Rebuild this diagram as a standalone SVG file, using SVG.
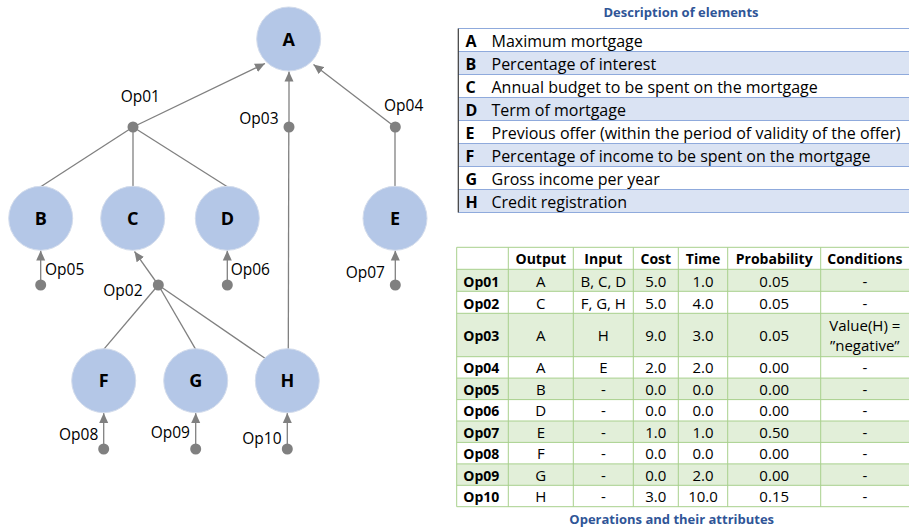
<svg xmlns="http://www.w3.org/2000/svg" width="909" height="532" viewBox="0 0 909 532">
<defs>
<marker id="arr" markerUnits="userSpaceOnUse" markerWidth="10" markerHeight="10" viewBox="0 0 10 10" refX="10" refY="5" orient="auto">
<path d="M0,0.5 L10,5 L0,9.5 Z" fill="#808080"/>
</marker>
<style>
.node circle{fill:#B4C7E7;stroke:#D3DCEC;stroke-width:1}
.node text{font-family:"Open Sans","Liberation Sans",sans-serif;font-weight:bold;font-size:18px;text-anchor:middle;fill:#000}
.dot{fill:#808080}
.ln{stroke:#808080;stroke-width:1.3;fill:none}
.ar{stroke:#808080;stroke-width:1.3;fill:none;marker-end:url(#arr)}
.lbl{font-family:"Open Sans","Liberation Sans",sans-serif;font-size:15.5px;fill:#000}
.ttl{font-family:"Open Sans","Liberation Sans",sans-serif;font-size:13px;font-weight:bold;fill:#2F5597;text-anchor:middle}
.dk{font-family:"Open Sans","Liberation Sans",sans-serif;font-size:16px;font-weight:bold;fill:#000}
.dt{font-family:"Open Sans","Liberation Sans",sans-serif;font-size:16px;fill:#000}
.th{font-family:"Open Sans","Liberation Sans",sans-serif;font-size:14px;font-weight:bold;fill:#000;text-anchor:middle}
.tn{font-family:"Open Sans","Liberation Sans",sans-serif;font-size:14px;font-weight:bold;fill:#000}
.tv{font-family:"Open Sans","Liberation Sans",sans-serif;font-size:15px;fill:#000;text-anchor:middle}
.bl{fill:#DAE3F3}
.gr{fill:#E2EFD9}
.bline{stroke:#8FAADC;stroke-width:1}
.gline{stroke:#A8D08D;stroke-width:1}
</style>
</defs>
<rect width="909" height="532" fill="#fff"/>

<g id="connectors">
<line class="ar" x1="133" y1="127" x2="265" y2="63.5"/>
<line class="ar" x1="289" y1="127" x2="289" y2="71.5"/>
<line class="ar" x1="395" y1="127" x2="313.5" y2="64.5"/>
<line class="ln" x1="133" y1="127" x2="40.7" y2="186.7"/>
<line class="ln" x1="133" y1="127" x2="133" y2="186.7"/>
<line class="ln" x1="133" y1="127" x2="227.3" y2="186.7"/>
<line class="ln" x1="395" y1="127" x2="395" y2="186.7"/>
<line class="ar" x1="40.7" y1="285" x2="40.7" y2="250.5"/>
<line class="ar" x1="227.3" y1="285" x2="227.3" y2="250.5"/>
<line class="ar" x1="395.3" y1="285" x2="395.3" y2="250.5"/>
<line class="ar" x1="158.3" y1="285" x2="134.5" y2="251.5"/>
<line class="ln" x1="158.3" y1="285" x2="103.7" y2="349.3"/>
<line class="ln" x1="158.3" y1="285" x2="195.7" y2="349.3"/>
<line class="ln" x1="158.3" y1="285" x2="265" y2="358.3"/>
<line class="ln" x1="288.3" y1="349.3" x2="288.8" y2="127"/>
<line class="ar" x1="103.7" y1="449" x2="103.7" y2="413"/>
<line class="ar" x1="195.7" y1="449" x2="195.7" y2="413"/>
<line class="ar" x1="287.3" y1="449" x2="287.3" y2="413"/>
</g>

<g id="op01"><circle class="dot" cx="133" cy="127" r="5.5"/><text class="lbl" x="120.7" y="102.3">Op01</text></g>
<g id="op02"><circle class="dot" cx="158.3" cy="285" r="5.5"/><text class="lbl" x="103.3" y="295.7">Op02</text></g>
<g id="op03"><circle class="dot" cx="289" cy="127" r="5.5"/><text class="lbl" x="239.3" y="124.3">Op03</text></g>
<g id="op04"><circle class="dot" cx="395.3" cy="127" r="5.5"/><text class="lbl" x="384" y="111">Op04</text></g>
<g id="op05"><circle class="dot" cx="40.7" cy="285" r="5.5"/><text class="lbl" x="45" y="274.5">Op05</text></g>
<g id="op06"><circle class="dot" cx="227.3" cy="285" r="5.5"/><text class="lbl" x="230.7" y="275">Op06</text></g>
<g id="op07"><circle class="dot" cx="395.3" cy="285" r="5.5"/><text class="lbl" x="345.7" y="277.7">Op07</text></g>
<g id="op08"><circle class="dot" cx="103.7" cy="449" r="5.5"/><text class="lbl" x="59" y="440.3">Op08</text></g>
<g id="op09"><circle class="dot" cx="195.7" cy="449" r="5.5"/><text class="lbl" x="150.7" y="438.3">Op09</text></g>
<g id="op10"><circle class="dot" cx="287.3" cy="449" r="5.5"/><text class="lbl" x="242.3" y="443.7">Op10</text></g>

<g id="nodeA" class="node"><circle cx="288.7" cy="39" r="32"/><text x="288.7" y="45.5">A</text></g>
<g id="nodeB" class="node"><circle cx="40.7" cy="218.3" r="32"/><text x="40.7" y="224.8">B</text></g>
<g id="nodeC" class="node"><circle cx="132.7" cy="218.3" r="32"/><text x="132.7" y="224.8">C</text></g>
<g id="nodeD" class="node"><circle cx="227.3" cy="218.3" r="32"/><text x="227.3" y="224.8">D</text></g>
<g id="nodeE" class="node"><circle cx="395" cy="218.3" r="32"/><text x="395" y="224.8">E</text></g>
<g id="nodeF" class="node"><circle cx="103.7" cy="380.7" r="32"/><text x="103.7" y="387.2">F</text></g>
<g id="nodeG" class="node"><circle cx="195.7" cy="380.7" r="32"/><text x="195.7" y="387.2">G</text></g>
<g id="nodeH" class="node"><circle cx="287.3" cy="380.7" r="32"/><text x="287.3" y="387.2">H</text></g>

<g id="description-table">
<text class="ttl" x="681" y="17.3">Description of elements</text>
<rect class="bl" x="458.3" y="51.5" width="451" height="23"/>
<rect class="bl" x="458.3" y="97.5" width="451" height="23"/>
<rect class="bl" x="458.3" y="143.5" width="451" height="23"/>
<rect class="bl" x="458.3" y="189.5" width="451" height="23"/>
<line class="bline" x1="458.3" y1="28.5" x2="909" y2="28.5"/>
<line class="bline" x1="458.3" y1="51.5" x2="909" y2="51.5"/>
<line class="bline" x1="458.3" y1="74.5" x2="909" y2="74.5"/>
<line class="bline" x1="458.3" y1="97.5" x2="909" y2="97.5"/>
<line class="bline" x1="458.3" y1="120.5" x2="909" y2="120.5"/>
<line class="bline" x1="458.3" y1="143.5" x2="909" y2="143.5"/>
<line class="bline" x1="458.3" y1="166.5" x2="909" y2="166.5"/>
<line class="bline" x1="458.3" y1="189.5" x2="909" y2="189.5"/>
<line class="bline" x1="458.3" y1="212.5" x2="909" y2="212.5"/>
<line x1="458.3" y1="28.5" x2="458.3" y2="212.5" stroke="#3A3A3A" stroke-width="1.2"/>
<text class="dk" x="465.5" y="46.5">A</text><text class="dt" x="491.5" y="46.5">Maximum mortgage</text>
<text class="dk" x="465.5" y="69.5">B</text><text class="dt" x="491.5" y="69.5">Percentage of interest</text>
<text class="dk" x="465.5" y="92.5">C</text><text class="dt" x="491.5" y="92.5">Annual budget to be spent on the mortgage</text>
<text class="dk" x="465.5" y="115.5">D</text><text class="dt" x="491.5" y="115.5">Term of mortgage</text>
<text class="dk" x="465.5" y="138.5">E</text><text class="dt" x="491.5" y="138.5">Previous offer (within the period of validity of the offer)</text>
<text class="dk" x="465.5" y="161.5">F</text><text class="dt" x="491.5" y="161.5">Percentage of income to be spent on the mortgage</text>
<text class="dk" x="465.5" y="184.5">G</text><text class="dt" x="491.5" y="184.5">Gross income per year</text>
<text class="dk" x="465.5" y="207.5">H</text><text class="dt" x="491.5" y="207.5">Credit registration</text>
</g>

<g id="operations-table">
<rect class="gr" x="456.7" y="269.3" width="453" height="22"/>
<rect class="gr" x="456.7" y="313.3" width="453" height="43.4"/>
<rect class="gr" x="456.7" y="378.1" width="453" height="21.5"/>
<rect class="gr" x="456.7" y="421" width="453" height="21.4"/>
<rect class="gr" x="456.7" y="463.9" width="453" height="21.4"/>
<g class="gline">
<line x1="456.7" y1="247.3" x2="909" y2="247.3"/>
<line x1="456.7" y1="269.3" x2="909" y2="269.3"/>
<line x1="456.7" y1="291.3" x2="909" y2="291.3"/>
<line x1="456.7" y1="313.3" x2="909" y2="313.3"/>
<line x1="456.7" y1="356.7" x2="909" y2="356.7"/>
<line x1="456.7" y1="378.1" x2="909" y2="378.1"/>
<line x1="456.7" y1="399.6" x2="909" y2="399.6"/>
<line x1="456.7" y1="421" x2="909" y2="421"/>
<line x1="456.7" y1="442.4" x2="909" y2="442.4"/>
<line x1="456.7" y1="463.9" x2="909" y2="463.9"/>
<line x1="456.7" y1="485.3" x2="909" y2="485.3"/>
<line x1="456.7" y1="506.7" x2="909" y2="506.7"/>
<line x1="456.7" y1="247.3" x2="456.7" y2="506.7"/>
<line x1="508.3" y1="247.3" x2="508.3" y2="506.7"/>
<line x1="573.3" y1="247.3" x2="573.3" y2="506.7"/>
<line x1="633.3" y1="247.3" x2="633.3" y2="506.7"/>
<line x1="678.3" y1="247.3" x2="678.3" y2="506.7"/>
<line x1="727.7" y1="247.3" x2="727.7" y2="506.7"/>
<line x1="820.7" y1="247.3" x2="820.7" y2="506.7"/>
</g>
<text class="th" x="540.8" y="264.3">Output</text>
<text class="th" x="603.3" y="264.3">Input</text>
<text class="th" x="655.8" y="264.3">Cost</text>
<text class="th" x="703" y="264.3">Time</text>
<text class="th" x="774.2" y="264.3">Probability</text>
<text class="th" x="864.8" y="264.3">Conditions</text>

<text class="tn" x="463.3" y="286.5">Op01</text>
<text class="tv" x="540.8" y="286.5">A</text><text class="tv" x="603.3" y="286.5">B, C, D</text><text class="tv" x="655.8" y="286.5">5.0</text><text class="tv" x="703" y="286.5">1.0</text><text class="tv" x="774.2" y="286.5">0.05</text><text class="tv" x="864.8" y="286.5">-</text>

<text class="tn" x="463.3" y="308.5">Op02</text>
<text class="tv" x="540.8" y="308.5">C</text><text class="tv" x="603.3" y="308.5">F, G, H</text><text class="tv" x="655.8" y="308.5">5.0</text><text class="tv" x="703" y="308.5">4.0</text><text class="tv" x="774.2" y="308.5">0.05</text><text class="tv" x="864.8" y="308.5">-</text>

<text class="tn" x="463.3" y="340.7">Op03</text>
<text class="tv" x="540.8" y="340.7">A</text><text class="tv" x="603.3" y="340.7">H</text><text class="tv" x="655.8" y="340.7">9.0</text><text class="tv" x="703" y="340.7">3.0</text><text class="tv" x="774.2" y="340.7">0.05</text>
<text class="tv" x="864.8" y="330.5">Value(H) =</text><text class="tv" x="864.8" y="350.5">”negative”</text>

<text class="tn" x="463.3" y="373.4">Op04</text>
<text class="tv" x="540.8" y="373.4">A</text><text class="tv" x="603.3" y="373.4">E</text><text class="tv" x="655.8" y="373.4">2.0</text><text class="tv" x="703" y="373.4">2.0</text><text class="tv" x="774.2" y="373.4">0.00</text><text class="tv" x="864.8" y="373.4">-</text>

<text class="tn" x="463.3" y="394.8">Op05</text>
<text class="tv" x="540.8" y="394.8">B</text><text class="tv" x="603.3" y="394.8">-</text><text class="tv" x="655.8" y="394.8">0.0</text><text class="tv" x="703" y="394.8">0.0</text><text class="tv" x="774.2" y="394.8">0.00</text><text class="tv" x="864.8" y="394.8">-</text>

<text class="tn" x="463.3" y="416.2">Op06</text>
<text class="tv" x="540.8" y="416.2">D</text><text class="tv" x="603.3" y="416.2">-</text><text class="tv" x="655.8" y="416.2">0.0</text><text class="tv" x="703" y="416.2">0.0</text><text class="tv" x="774.2" y="416.2">0.00</text><text class="tv" x="864.8" y="416.2">-</text>

<text class="tn" x="463.3" y="437.7">Op07</text>
<text class="tv" x="540.8" y="437.7">E</text><text class="tv" x="603.3" y="437.7">-</text><text class="tv" x="655.8" y="437.7">1.0</text><text class="tv" x="703" y="437.7">1.0</text><text class="tv" x="774.2" y="437.7">0.50</text><text class="tv" x="864.8" y="437.7">-</text>

<text class="tn" x="463.3" y="459.1">Op08</text>
<text class="tv" x="540.8" y="459.1">F</text><text class="tv" x="603.3" y="459.1">-</text><text class="tv" x="655.8" y="459.1">0.0</text><text class="tv" x="703" y="459.1">0.0</text><text class="tv" x="774.2" y="459.1">0.00</text><text class="tv" x="864.8" y="459.1">-</text>

<text class="tn" x="463.3" y="480.6">Op09</text>
<text class="tv" x="540.8" y="480.6">G</text><text class="tv" x="603.3" y="480.6">-</text><text class="tv" x="655.8" y="480.6">0.0</text><text class="tv" x="703" y="480.6">2.0</text><text class="tv" x="774.2" y="480.6">0.00</text><text class="tv" x="864.8" y="480.6">-</text>

<text class="tn" x="463.3" y="502">Op10</text>
<text class="tv" x="540.8" y="502">H</text><text class="tv" x="603.3" y="502">-</text><text class="tv" x="655.8" y="502">3.0</text><text class="tv" x="703" y="502">10.0</text><text class="tv" x="774.2" y="502">0.15</text><text class="tv" x="864.8" y="502">-</text>

<text class="ttl" x="671.7" y="524">Operations and their attributes</text>
</g>
</svg>
